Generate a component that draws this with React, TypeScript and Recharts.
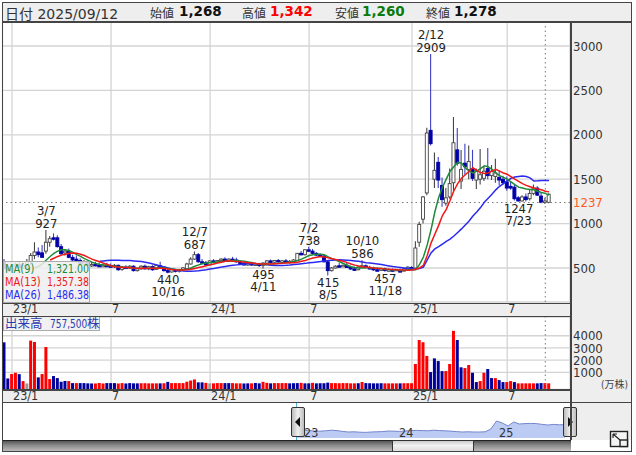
import React from "react";
import {
  Area,
  AreaChart,
  Bar,
  CartesianGrid,
  Cell,
  ComposedChart,
  Line,
  ReferenceDot,
  ReferenceLine,
  XAxis,
  YAxis,
} from "recharts";

// weekly candles, 23/1 .. 2025/09
const opens = [
  560, 500, 470, 520, 540, 510, 530, 570, 640, 680, 670, 690, 790, 840, 840, 740, 670, 690, 620, 600,
  585, 550, 560, 530, 540, 530, 525, 530, 525, 515, 530, 485, 510, 500, 520, 470, 490, 520, 490, 515,
  485, 525, 510, 470, 455, 480, 470, 480, 495, 545, 600, 650, 570, 560, 535, 580, 570, 585, 600, 580,
  600, 590, 570, 550, 540, 550, 535, 545, 530, 555, 580, 565, 585, 570, 580, 565, 575, 585, 665, 650,
  705, 690, 665, 645, 635, 570, 470, 500, 525, 515, 530, 505, 490, 480, 510, 525, 505, 495, 480, 475,
  490, 475, 480, 470, 470, 465, 490, 505, 500, 790, 1050, 1345, 2050, 1500, 1690, 1430, 1230, 1300, 1460, 1830,
  1480, 1680, 1610, 1620, 1490, 1500, 1510, 1620, 1540, 1530, 1520, 1500, 1470, 1420, 1410, 1290, 1255, 1300, 1280, 1340,
  1400, 1310, 1240, 1240,
];
const highs = [
  600, 530, 540, 560, 570, 560, 600, 670, 790, 730, 760, 927, 860, 890, 870, 770, 710, 720, 650, 640,
  610, 590, 580, 570, 570, 560, 550, 560, 550, 545, 540, 520, 530, 530, 530, 500, 530, 540, 525, 530,
  540, 570, 520, 490, 490, 490, 490, 510, 560, 620, 687, 670, 600, 580, 590, 600, 590, 610, 620, 610,
  625, 615, 590, 570, 565, 570, 560, 560, 565, 590, 595, 590, 600, 590, 600, 590, 600, 670, 690, 715,
  738, 715, 680, 665, 650, 580, 510, 530, 555, 540, 555, 525, 515, 520, 586, 540, 525, 515, 500, 500,
  505, 495, 495, 490, 495, 500, 520, 520, 800, 1020, 1310, 2080, 2909, 1800, 1750, 1520, 1400, 1620, 2200, 2075,
  1830, 1900, 1880, 1830, 1620, 1840, 1640, 1850, 1660, 1730, 1600, 1540, 1530, 1470, 1440, 1310, 1320, 1340, 1390, 1440,
  1420, 1350, 1290, 1342,
];
const lows = [
  480, 460, 460, 500, 500, 490, 500, 540, 600, 620, 620, 660, 740, 810, 730, 650, 640, 610, 570, 560,
  540, 530, 520, 510, 520, 515, 510, 510, 505, 500, 470, 470, 490, 490, 460, 460, 480, 480, 475, 470,
  480, 500, 460, 440, 450, 450, 450, 465, 485, 540, 590, 560, 550, 525, 530, 560, 555, 570, 570, 570,
  575, 560, 540, 530, 525, 525, 525, 510, 495, 540, 550, 550, 560, 550, 555, 550, 565, 580, 640, 640,
  680, 655, 635, 625, 560, 415, 460, 495, 510, 510, 500, 480, 470, 475, 500, 495, 485, 470, 465, 465,
  457, 460, 460, 465, 460, 460, 480, 485, 490, 740, 1000, 1320, 1880, 1400, 1400, 1190, 1200, 1280, 1370, 1650,
  1390, 1550, 1500, 1480, 1390, 1440, 1480, 1500, 1490, 1460, 1430, 1440, 1370, 1380, 1260, 1247, 1250, 1250, 1260, 1320,
  1310, 1230, 1220, 1230,
];
const closes = [
  500, 470, 520, 540, 510, 530, 570, 640, 680, 650, 620, 790, 830, 830, 740, 660, 690, 620, 590, 580,
  550, 560, 530, 540, 530, 525, 530, 520, 510, 530, 480, 510, 500, 520, 470, 490, 520, 490, 515, 480,
  530, 510, 470, 455, 480, 470, 480, 500, 545, 600, 650, 570, 560, 535, 580, 570, 585, 600, 580, 600,
  590, 570, 550, 540, 550, 535, 545, 530, 555, 580, 565, 585, 570, 580, 565, 575, 590, 665, 650, 705,
  690, 665, 645, 635, 570, 470, 500, 520, 515, 530, 505, 490, 480, 510, 525, 505, 495, 480, 475, 490,
  475, 480, 470, 485, 465, 490, 510, 495, 725, 990, 1300, 2020, 1900, 1600, 1490, 1270, 1290, 1450, 1910, 1680,
  1610, 1640, 1700, 1510, 1600, 1550, 1590, 1540, 1590, 1570, 1490, 1460, 1400, 1400, 1280, 1255, 1300, 1270, 1340, 1400,
  1320, 1240, 1255, 1330,
];

const gap = (n: number) => Array(n).fill(null);

const ma9 = [
  ...gap(8),
  500, 520, 545, 590, 630, 665, 690, 705, 705, 695, 675, 650, 630, 605, 585, 565, 550, 540, 535, 530, 525, 520, 515,
  510, 505, 505, 500, 498, 497, 497, 498, 498, 500, 502, 500, 495, 488, 482, 478, 480, 485, 500, 520,
  535, 548, 555, 560, 565, 568, 572, 575, 580, 585, 585, 580, 575, 568, 560, 552, 545, 540, 540, 545,
  548, 552, 556, 562, 565, 570, 585, 600, 620, 640, 650, 655, 655, 650, 625, 605, 590, 570, 550, 530,
  515, 505, 500, 500, 503, 503, 500, 497, 493, 487, 482, 478, 475, 473, 475, 480, 483,
  480, 540, 624, 760, 930, 1130, 1290, 1410, 1500, 1590, 1640, 1690, 1680, 1630, 1590, 1570, 1590, 1620, 1650, 1640,
  1610, 1570, 1540, 1520, 1500, 1470, 1440, 1410, 1400, 1390, 1385, 1380, 1365, 1350, 1340, 1321,
];
const ma13 = [
  ...gap(12),
  590, 610, 630, 645, 655, 665, 668, 665, 655, 640, 620, 600, 585, 570, 555, 540, 525, 515, 510, 505,
  505, 503, 500, 498, 497, 497, 497, 497, 497, 497, 493, 488, 483, 480, 478, 478, 480, 485, 495, 505,
  515, 525, 535, 545, 555, 565, 575, 582, 575, 572, 570, 565, 560, 555, 550, 545, 545, 545, 545, 548,
  550, 552, 555, 558, 560, 565, 575, 585, 600, 612, 622, 630, 625, 615, 605, 595, 585, 575, 560, 545,
  532, 522, 515, 510, 505, 500, 497, 495, 490, 487, 484, 481, 478, 476, 475, 478,
  485, 500, 530, 640, 780, 880, 980, 1090, 1160, 1260, 1370, 1450, 1510, 1550, 1590, 1630, 1600, 1575, 1565, 1570,
  1590, 1610, 1590, 1570, 1555, 1530, 1500, 1475, 1450, 1430, 1415, 1400, 1390, 1380, 1365, 1357,
];
const ma26 = [
  ...gap(25),
  575, 580, 585, 588, 588, 587, 585, 585, 583, 580, 577, 572, 565, 555, 545, 535, 522, 510, 500, 490,
  480, 472, 465, 462, 463, 466, 470, 475, 480, 488, 495, 503, 510, 518, 525, 530, 535, 540, 545, 548,
  550, 548, 543, 540, 535, 530, 528, 527, 528, 530, 533, 538, 543, 548, 552, 558, 563, 568, 572, 578,
  583, 587, 590, 592, 590, 588, 585, 580, 575, 568, 560, 555, 550, 545, 538, 530, 523, 516, 510, 505,
  500, 495, 490, 490, 495, 510, 590, 670, 715, 740, 770, 800, 825, 860, 900, 940, 985, 1030, 1085, 1130,
  1180, 1240, 1285, 1330, 1380, 1420, 1450, 1480, 1510, 1525, 1530, 1535, 1530, 1515, 1480, 1482, 1485, 1485, 1486,
];

const volumes = [
  3460, 510, 870, 980, 860, 295, 100, 3600, 3490, 600, 870, 3080, 460, 705, 540, 240, 295, 295, 130, 130,
  130, 130, 110, 100, 100, 140, 100, 130, 130, 130, 100, 130, 100, 130, 110, 110, 120, 120, 110, 110,
  110, 110, 120, 230, 130, 130, 130, 130, 240, 340, 430, 190, 190, 150, 110, 110, 130, 130, 130, 130,
  130, 110, 110, 100, 110, 110, 130, 110, 230, 150, 110, 130, 130, 130, 130, 110, 120, 130, 150, 110,
  110, 150, 110, 120, 120, 170, 130, 130, 120, 130, 130, 110, 110, 120, 220, 130, 120, 110, 110, 120,
  110, 110, 110, 110, 110, 120, 120, 120, 1690, 3650, 3470, 2350, 1030, 2150, 1930, 1110, 1110, 1690, 4400, 3650,
  1420, 1360, 1610, 975, 215, 295, 975, 1280, 540, 540, 375, 215, 215, 295, 215, 110, 110, 110, 110, 110,
  110, 130, 130, 110,
];
// r: up week, b: down week, g: unchanged
const volumeSides = (
  "bbrrbrgrrb" + "rrrbbbbrbr" + "bbbbrrrbbb" + "rrbbbbrrrr" + "rbrbrrrrrr" +
  "rbbrgrrrbb" + "rrrbbrbbrr" + "brrrrbbbrb" + "brbbbbrrrr" + "rrrbrbbbbb" +
  "rrrrbrrr" + "rrrrbbbbrr" + "rbbrrbbrrb" + "brbbrrbrrr" + "rrbbrr"
).split("");
const sideColors: Record<string, string> = { r: "#ff0000", b: "#00009c", g: "#9a9a9a" };

const navValues = [
  350, 390, 380, 350, 340, 360, 390, 370, 330, 300, 310, 290, 280, 300, 310, 320, 350, 340, 330, 350,
  370, 380, 370, 360, 390, 370, 360, 340, 320, 300, 310, 300, 300, 310, 450, 850, 750, 600, 800, 700,
  720, 730, 720, 680, 650, 680, 660, 670,
];

const tickWeeks = [2, 28, 54, 80, 107, 132];
const tickLabels = ["23/1", "7", "24/1", "7", "25/1", "7"];
const priceTicks = [500, 1000, 1500, 2000, 2500, 3000];
const volumeTicks = [1000, 2000, 3000, 4000];
const lastPrice = 1237;
const cursorWeek = 142;

const highNotes = [
  { week: 11, price: 927, date: "3/7" },
  { week: 50, price: 687, date: "12/7" },
  { week: 80, price: 738, date: "7/2" },
  { week: 94, price: 586, date: "10/10" },
  { week: 112, price: 2909, date: "2/12" },
];
const lowNotes = [
  { week: 43, price: 440, date: "10/16" },
  { week: 68, price: 495, date: "4/11" },
  { week: 85, price: 415, date: "8/5" },
  { week: 100, price: 457, date: "11/18" },
  { week: 135, price: 1247, date: "7/23" },
];

const maLegend = [
  { name: "MA(9)", value: "1,321.00", color: "#1f8a3a" },
  { name: "MA(13)", value: "1,357.38", color: "#f01818" },
  { name: "MA(26)", value: "1,486.38", color: "#2a2af0" },
];
const headerValues = [
  { name: "始値", value: "1,268", color: "#111", left: 150, valueLeft: 179 },
  { name: "高値", value: "1,342", color: "#ff0000", left: 242, valueLeft: 270 },
  { name: "安値", value: "1,260", color: "#0a7a0a", left: 335, valueLeft: 362 },
  { name: "終値", value: "1,278", color: "#111", left: 426, valueLeft: 454 },
];

const rows = opens.map((open, i) => ({
  week: i,
  open,
  high: highs[i],
  low: lows[i],
  close: closes[i],
  ma9: ma9[i],
  ma13: ma13[i],
  ma26: ma26[i],
  volume: volumes[i],
}));
const navRows = navValues.map((value, i) => ({ i, value }));

const FONT = "'DejaVu Sans Condensed','DejaVu Sans','Noto Sans CJK JP',sans-serif";
const WIDE = "'DejaVu Sans','Noto Sans CJK JP',sans-serif";
const VOLUME_FLOOR = -393;
const GRID = "#d4d4d4";
const FRAME = "#444";
const PANEL = "#eeeeee";

const Candle = (props: any) => {
  const { x, y, width, height, payload } = props;
  const up = payload.close >= payload.open;
  const perUnit = height / (payload.high - payload.low);
  const top = y + (payload.high - Math.max(payload.open, payload.close)) * perUnit;
  const body = Math.max(Math.abs(payload.close - payload.open) * perUnit, 1.5);
  const mid = x + width / 2;
  return (
    <g>
      <line x1={mid} x2={mid} y1={y} y2={y + height} stroke={up ? "#444" : "#3f3fc8"} strokeWidth={1.1} />
      <rect
        x={x}
        y={top}
        width={width}
        height={body}
        fill={up ? "#fff" : "#0000a8"}
        stroke={up ? "#444" : "#0000a8"}
        strokeWidth={0.9}
      />
    </g>
  );
};

const WeekTick = (props: any) => {
  const { x, y, payload } = props;
  return (
    <text x={x + 1} y={y + 10.5} fontSize={12.5} fontFamily={FONT} fill="#333">
      {tickLabels[tickWeeks.indexOf(payload.value)]}
    </text>
  );
};

const note = (lines: string[], offsets: number[]) => (props: any) => (
  <g fontSize={13} fontFamily={FONT} fill="#222" textAnchor="middle">
    <text x={props.cx} y={props.cy + offsets[0]}>{lines[0]}</text>
    <text x={props.cx} y={props.cy + offsets[1]}>{lines[1]}</text>
  </g>
);

const box = (left: number, top: number, width: number, height: number, extra: React.CSSProperties = {}) =>
  ({ position: "absolute", left, top, width, height, boxSizing: "border-box", ...extra }) as React.CSSProperties;

const narrow = (origin: string, scale: number): React.CSSProperties => ({
  display: "inline-block",
  transform: `scaleX(${scale})`,
  transformOrigin: origin,
  whiteSpace: "nowrap",
});

const Handle = ({ left, dir }: { left: number; dir: "l" | "r" }) => (
  <div
    style={box(left, 407, 14, 30, {
      background: "linear-gradient(90deg,#bbb,#f2f2f2 50%,#bbb)",
      border: "1px solid #333",
      borderRadius: 2,
    })}
  >
    <svg width={12} height={28} style={{ display: "block" }}>
      <path d={dir === "l" ? "M8 9 L3 14 L8 19 Z" : "M4 9 L9 14 L4 19 Z"} fill="#111" />
    </svg>
  </div>
);

export default function App() {
  return (
    <div style={box(0, 0, 636, 455, { background: "#fff", overflow: "hidden" })}>
      {/* panel backgrounds */}
      <div style={box(2, 2, 630, 20, { background: PANEL })} />
      <div style={box(571, 22, 60, 418, { background: PANEL })} />
      <div style={box(3, 303, 568, 13, { background: PANEL })} />
      <div style={box(3, 390, 568, 12, { background: PANEL })} />

      {/* header */}
      <span style={{ position: "absolute", left: 5, top: 3, fontSize: 14, fontFamily: WIDE, color: "#333", whiteSpace: "nowrap" }}>
        日付 2025/09/12
      </span>
      {headerValues.map((h) => (
        <React.Fragment key={h.name}>
          <span style={{ position: "absolute", left: h.left, top: 4, fontSize: 12, fontFamily: WIDE, color: "#333" }}>{h.name}</span>
          <span style={{ position: "absolute", left: h.valueLeft, top: 3, fontSize: 13.5, fontWeight: 700, fontFamily: WIDE, color: h.color }}>
            {h.value}
          </span>
        </React.Fragment>
      ))}

      {/* price */}
      <div style={{ position: "absolute", left: 0, top: 0 }}>
        <ComposedChart
          width={632}
          height={316}
          data={rows}
          margin={{ top: 22, right: 0, bottom: 0, left: 2.5 }}
          barCategoryGap={0}
        >
          <CartesianGrid stroke={GRID} strokeWidth={1.3} />
          <XAxis
            dataKey="week"
            ticks={tickWeeks}
            interval={0}
            height={14}
            padding={{ left: 0, right: 19 }}
            axisLine={false}
            tickLine={false}
            tickSize={0}
            tickMargin={0}
            tick={<WeekTick />}
          />
          <YAxis
            orientation="right"
            domain={[117, 3270]}
            ticks={priceTicks}
            interval={0}
            width={62}
            axisLine={false}
            tickLine={false}
            tickSize={0}
            tickMargin={3}
            tick={{ fontSize: 13, fontFamily: FONT, fill: "#333" }}
          />
          <ReferenceLine
            y={lastPrice}
            stroke="#777"
            strokeDasharray="1.5 3"
            label={{ value: String(lastPrice), position: "right", offset: 3, fill: "#ff5a1f", fontSize: 13, fontFamily: FONT }}
          />
          <ReferenceLine x={cursorWeek} stroke="#777" strokeDasharray="1.5 3" />
          <Bar dataKey={(d: any) => [d.low, d.high]} barSize={3} shape={Candle} isAnimationActive={false} />
          <Line dataKey="ma26" stroke="#2a2af0" strokeWidth={1.5} dot={false} isAnimationActive={false} />
          <Line dataKey="ma9" stroke="#1f8a3a" strokeWidth={1.5} dot={false} isAnimationActive={false} />
          <Line dataKey="ma13" stroke="#f01818" strokeWidth={1.5} dot={false} isAnimationActive={false} />
          {highNotes.map((n) => (
            <ReferenceDot key={n.date} x={n.week} y={n.price} r={0} shape={note([n.date, String(n.price)], [-15, -2])} />
          ))}
          {lowNotes.map((n) => (
            <ReferenceDot key={n.date} x={n.week} y={n.price} r={0} shape={note([String(n.price), n.date], [11, 23])} />
          ))}
        </ComposedChart>
      </div>

      {/* volume */}
      <div style={{ position: "absolute", left: 0, top: 316 }}>
        <ComposedChart
          width={632}
          height={86}
          data={rows}
          margin={{ top: 1, right: 0, bottom: 0, left: 2.5 }}
          barCategoryGap={0}
        >
          <CartesianGrid stroke={GRID} strokeWidth={1.3} />
          <XAxis
            dataKey="week"
            ticks={tickWeeks}
            interval={0}
            height={12.5}
            padding={{ left: 0, right: 19 }}
            axisLine={false}
            tickLine={false}
            tickSize={0}
            tickMargin={0}
            tick={<WeekTick />}
          />
          <YAxis
            orientation="right"
            domain={[VOLUME_FLOOR, 5530]}
            ticks={volumeTicks}
            interval={0}
            width={62}
            axisLine={false}
            tickLine={false}
            tickSize={0}
            tickMargin={3}
            tick={{ fontSize: 13, fontFamily: FONT, fill: "#333" }}
          />
          <ReferenceLine x={cursorWeek} stroke="#777" strokeDasharray="1.5 3" />
          <Bar dataKey={(d: any) => [VOLUME_FLOOR, d.volume]} barSize={3} isAnimationActive={false}>
            {rows.map((r) => (
              <Cell key={r.week} fill={sideColors[volumeSides[r.week]]} />
            ))}
          </Bar>
        </ComposedChart>
      </div>
      <span style={{ position: "absolute", left: 601, top: 376, fontSize: 10, fontFamily: FONT, color: "#444" }}>(万株)</span>

      {/* moving average legend */}
      <div style={box(3, 261, 87, 42, { background: "rgba(238,238,238,0.85)", border: "1px solid #aaa" })}>
        {maLegend.map((m) => (
          <div
            key={m.name}
            style={{ position: "relative", height: 13, lineHeight: "13px", fontSize: 12.5, fontFamily: FONT, color: m.color }}
          >
            <span style={{ position: "absolute", left: 1, ...narrow("left", 0.88) }}>{m.name}</span>
            <span style={{ position: "absolute", right: 0, ...narrow("right", 0.84) }}>{m.value}</span>
          </div>
        ))}
      </div>
      <div
        style={box(3, 316, 97, 15, {
          background: "rgba(238,238,238,0.85)",
          border: "1px solid #aaa",
          fontSize: 12.5,
          lineHeight: "13px",
          fontFamily: FONT,
          color: "#2a3ab0",
        })}
      >
        <span style={{ position: "absolute", left: 1, whiteSpace: "nowrap" }}>出来高</span>
        <span style={{ position: "absolute", left: 46, ...narrow("left", 0.8) }}>757,500</span>
        <span style={{ position: "absolute", left: 83 }}>株</span>
      </div>

      {/* navigator */}
      <div style={{ position: "absolute", left: 297, top: 416 }}>
        <AreaChart width={268} height={22} data={navRows} margin={{ top: 2, right: 0, bottom: 0, left: 0 }}>
          <XAxis dataKey="i" hide />
          <YAxis domain={[0, 1000]} hide />
          <Area dataKey="value" type="linear" stroke="#7484cc" strokeWidth={1} fill="#bccbf3" fillOpacity={1} isAnimationActive={false} />
        </AreaChart>
      </div>
      {[{ t: "23", l: 304 }, { t: "24", l: 399 }, { t: "25", l: 499 }].map((n) => (
        <span key={n.t} style={{ position: "absolute", left: n.l, top: 425, fontSize: 12.5, fontFamily: FONT, color: "#333" }}>{n.t}</span>
      ))}
      <div style={box(296, 402, 1, 39, { background: "#55b4d8" })} />
      <div style={box(570, 402, 1, 39, { background: "#55b4d8" })} />
      <Handle left={291} dir="l" />
      <Handle left={563} dir="r" />

      {/* scroll bar */}
      <div style={box(3, 440, 568, 12, { background: "linear-gradient(#555,#888 40%,#bbb)", borderTop: "1px solid #222", borderBottom: "1px solid #333" })} />
      <div style={box(392, 440, 82, 12, { background: "linear-gradient(#ccc,#f2f2f2 45%,#ddd)", border: "1px solid #333" })} />

      {/* expand icon */}
      <svg width={22} height={22} style={{ position: "absolute", left: 609, top: 430 }}>
        <rect x={1.5} y={1.5} width={17} height={15} fill="#f4f4f4" stroke="#222" strokeWidth={1.4} />
        <rect x={11} y={10} width={7.5} height={6.5} fill="#f4f4f4" stroke="#222" strokeWidth={1.4} />
        <path d="M4 4 L11 10 M4 4 L4 8 M4 4 L8 4" stroke="#222" strokeWidth={1.2} fill="none" />
      </svg>

      {/* frames */}
      <div style={box(2, 2, 630, 450, { border: `1.5px solid ${FRAME}` })} />
      <div style={box(570, 22, 1.5, 418, { background: FRAME })} />
      <div style={box(2, 21, 630, 1.5, { background: FRAME })} />
      <div style={box(2, 302.5, 569, 1.5, { background: FRAME })} />
      <div style={box(2, 315.5, 569, 1.5, { background: FRAME })} />
      <div style={box(2, 389, 569, 1.5, { background: FRAME })} />
      <div style={box(2, 401.5, 630, 1.5, { background: FRAME })} />
    </div>
  );
}
